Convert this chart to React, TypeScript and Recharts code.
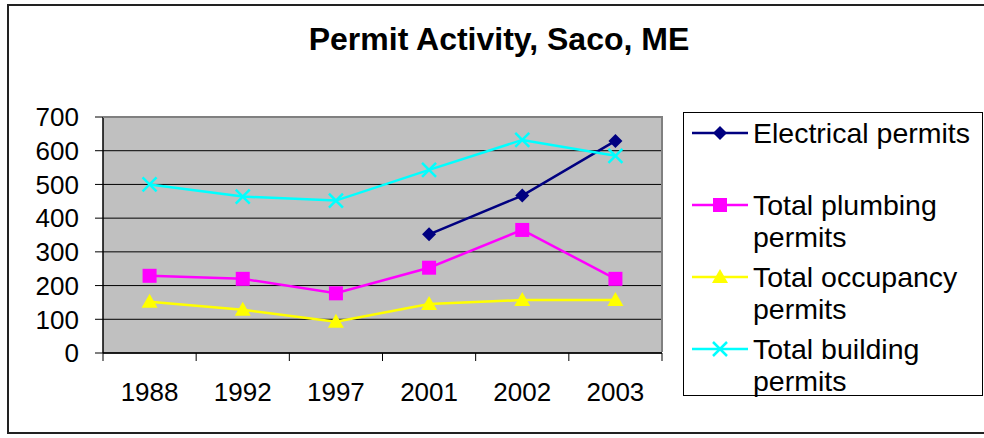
import { CartesianGrid, Line, LineChart, XAxis, YAxis } from "recharts";

const years = ["1988", "1992", "1997", "2001", "2002", "2003"];
const electrical = [null, null, null, 352, 467, 629];
const plumbing = [229, 220, 177, 253, 365, 220];
const occupancy = [152, 128, 93, 145, 157, 157];
const building = [500, 464, 452, 543, 632, 585];
const yTicks = [0, 100, 200, 300, 400, 500, 600, 700];

const data = years.map((year, i) => ({
  year,
  electrical: electrical[i],
  plumbing: plumbing[i],
  occupancy: occupancy[i],
  building: building[i],
}));

const FONT = "Arial, 'Liberation Sans', sans-serif";
const W = 984;
const H = 438;
const PLOT_LEFT = 103;
const PLOT_RIGHT = 662;
const PLOT_TOP = 117;
const PLOT_BOTTOM = 353;
const BAND = (PLOT_RIGHT - PLOT_LEFT) / years.length;

const NAVY = "#000080";
const MAGENTA = "#FF00FF";
const YELLOW = "#FFFF00";
const CYAN = "#00FFFF";

type Mark = "diamond" | "square" | "triangle" | "cross";

function Marker({ kind, cx, cy, color }: { kind: Mark; cx: number; cy: number; color: string }) {
  if (kind === "diamond")
    return <polygon points={`${cx},${cy - 7} ${cx + 7},${cy} ${cx},${cy + 7} ${cx - 7},${cy}`} fill={color} />;
  if (kind === "square") return <rect x={cx - 7} y={cy - 7} width={14} height={14} fill={color} />;
  if (kind === "triangle")
    return <polygon points={`${cx},${cy - 8} ${cx + 8},${cy + 6} ${cx - 8},${cy + 6}`} fill={color} />;
  return (
    <g stroke={color} strokeWidth={2.5}>
      <line x1={cx - 7} y1={cy - 7} x2={cx + 7} y2={cy + 7} />
      <line x1={cx - 7} y1={cy + 7} x2={cx + 7} y2={cy - 7} />
    </g>
  );
}

const dot = (kind: Mark, color: string) => (props: any) => {
  const { cx, cy, index } = props;
  if (cx == null || cy == null || props.value == null) return <g key={`${kind}-${index}`} />;
  return (
    <g key={`${kind}-${index}`}>
      <Marker kind={kind} cx={cx} cy={cy} color={color} />
    </g>
  );
};

function YearTick(props: any) {
  const { x, index, payload } = props;
  const left = x - BAND / 2;
  return (
    <g>
      <line x1={left} y1={PLOT_BOTTOM} x2={left} y2={PLOT_BOTTOM + 8} stroke="#000" />
      {index === years.length - 1 && (
        <line x1={x + BAND / 2} y1={PLOT_BOTTOM} x2={x + BAND / 2} y2={PLOT_BOTTOM + 8} stroke="#000" />
      )}
      <text x={x} y={392} textAnchor="middle" dominantBaseline="central" fontSize={26} fontFamily={FONT} fill="#000">
        {payload.value}
      </text>
    </g>
  );
}

const legendItems: { kind: Mark; color: string; lines: string[] }[] = [
  { kind: "diamond", color: NAVY, lines: ["Electrical permits", ""] },
  { kind: "square", color: MAGENTA, lines: ["Total plumbing", "permits"] },
  { kind: "triangle", color: YELLOW, lines: ["Total occupancy", "permits"] },
  { kind: "cross", color: CYAN, lines: ["Total building", "permits"] },
];

function ChartLegend() {
  return (
    <div
      style={{
        position: "absolute",
        left: 683,
        top: 112,
        width: 300,
        height: 284,
        boxSizing: "border-box",
        border: "1px solid #000",
        background: "#fff",
        paddingTop: 4,
        fontFamily: FONT,
        fontSize: 28.5,
        color: "#000",
      }}
    >
      {legendItems.map((item) => (
        <div key={item.lines[0]} style={{ position: "relative", height: 72 }}>
          <svg width={58} height={32} style={{ position: "absolute", left: 8, top: 0 }}>
            <line x1={0} y1={16} x2={56} y2={16} stroke={item.color} strokeWidth={2.5} />
            <Marker kind={item.kind} cx={28} cy={16} color={item.color} />
          </svg>
          <div style={{ position: "absolute", left: 69, top: 0, lineHeight: "32px", whiteSpace: "nowrap" }}>
            <div>{item.lines[0]}</div>
            <div>{item.lines[1] || "\u00a0"}</div>
          </div>
        </div>
      ))}
    </div>
  );
}

export default function App() {
  return (
    <div style={{ position: "absolute", left: 0, top: 0, width: W, height: H, overflow: "hidden", background: "#fff" }}>
      <div
        style={{
          position: "absolute",
          left: 7,
          top: 4,
          width: 1000,
          height: 430,
          boxSizing: "border-box",
          border: "2px solid #222",
        }}
      />
      <div
        style={{
          position: "absolute",
          left: 0,
          top: 21,
          width: 998,
          textAlign: "center",
          fontFamily: FONT,
          fontWeight: "bold",
          fontSize: 32,
          color: "#000",
        }}
      >
        Permit Activity, Saco, ME
      </div>
      <div style={{ position: "absolute", left: 0, top: 0 }}>
        <LineChart width={W} height={H} data={data} margin={{ top: PLOT_TOP, right: W - PLOT_RIGHT, bottom: 0, left: 0 }}>
          <CartesianGrid vertical={false} stroke="#000" fill="#C0C0C0" fillOpacity={1} />
          <XAxis
            dataKey="year"
            height={H - PLOT_BOTTOM}
            padding={{ left: BAND / 2, right: BAND / 2 }}
            axisLine={{ stroke: "#000", strokeWidth: 1.5 }}
            tickLine={false}
            tick={<YearTick />}
            interval={0}
          />
          <YAxis
            width={PLOT_LEFT}
            domain={[0, 700]}
            ticks={yTicks}
            interval={0}
            axisLine={{ stroke: "#000", strokeWidth: 1.5 }}
            tickLine={{ stroke: "#000" }}
            tickSize={8}
            tickMargin={16}
            tick={{ fontSize: 26, fontFamily: FONT, fill: "#000" }}
          />
          <Line dataKey="electrical" stroke={NAVY} strokeWidth={2.5} dot={dot("diamond", NAVY)} isAnimationActive={false} />
          <Line dataKey="plumbing" stroke={MAGENTA} strokeWidth={2.5} dot={dot("square", MAGENTA)} isAnimationActive={false} />
          <Line dataKey="occupancy" stroke={YELLOW} strokeWidth={2.5} dot={dot("triangle", YELLOW)} isAnimationActive={false} />
          <Line dataKey="building" stroke={CYAN} strokeWidth={2.5} dot={dot("cross", CYAN)} isAnimationActive={false} />
        </LineChart>
      </div>
      <div
        style={{
          position: "absolute",
          left: PLOT_LEFT,
          top: PLOT_TOP - 1,
          width: PLOT_RIGHT - PLOT_LEFT + 1,
          height: PLOT_BOTTOM - PLOT_TOP,
          boxSizing: "border-box",
          borderTop: "2px solid #808080",
          borderRight: "2px solid #808080",
        }}
      />
      <ChartLegend />
    </div>
  );
}
